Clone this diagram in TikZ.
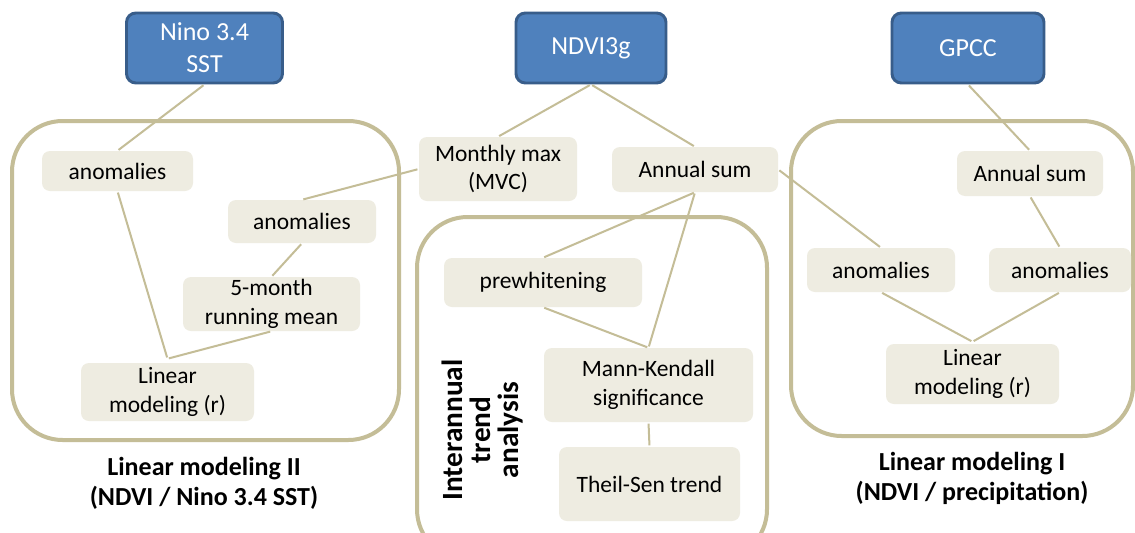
\documentclass[tikz,border=0pt]{standalone}
\usepackage{fontspec}
\setmainfont{Carlito}
\usetikzlibrary{calc}
\definecolor{srcblue}{HTML}{4F81BD}
\definecolor{srcborder}{HTML}{385D8A}
\definecolor{boxfill}{HTML}{EEECE1}
\definecolor{tanline}{HTML}{C4BD97}
\tikzset{
  srcbox/.style={draw=srcborder, line width=2.2pt, fill=srcblue, rounded corners=7pt,
    text=white, inner sep=0pt, align=center, font=\fontsize{19.5}{24}\selectfont},
  stepbox/.style={fill=boxfill, rounded corners=6pt, inner sep=0pt, align=center,
    text=black, font=\fontsize{17.6}{21.5}\selectfont},
  group/.style={draw=tanline, line width=3pt, rounded corners=38pt},
  conn/.style={draw=tanline, line width=1.5pt, shorten <=1pt, shorten >=1pt},
  captionlbl/.style={align=center, font=\bfseries\fontsize{19.5}{22.5}\selectfont},
}
\begin{document}
\begin{tikzpicture}[x=0.75pt, y=-0.75pt]
\clip (0,0) rectangle (1135,532);
\fill[white] (0,0) rectangle (1135,532);
% group containers
\draw[group] (12,121) rectangle (399,440);
\draw[group] (417,217) rectangle (767,560);
\draw[group] (791,121) rectangle (1133,436);
% source boxes
\node[srcbox, minimum width=156*0.75pt, minimum height=70*0.75pt] (nino) at (204.5,48) {Nino 3.4\\SST};
\node[srcbox, minimum width=150*0.75pt, minimum height=70*0.75pt] (ndvi) at (591,48) {NDVI3g};
\node[srcbox, minimum width=152*0.75pt, minimum height=70*0.75pt] (gpcc) at (968,48) {GPCC};
% left group
\node[stepbox, minimum width=151*0.75pt, minimum height=40*0.75pt] (aL1) at (117.5,171) {anomalies};
\node[stepbox, minimum width=148*0.75pt, minimum height=43*0.75pt] (aL2) at (302,221.5) {anomalies};
\node[stepbox, minimum width=177*0.75pt, minimum height=54*0.75pt] (run) at (271.5,304) {5-month\\running mean};
\node[stepbox, minimum width=173*0.75pt, minimum height=58*0.75pt] (linL) at (167.5,392) {Linear\\modeling (r)};
% middle
\node[stepbox, minimum width=158*0.75pt, minimum height=64*0.75pt] (mvc) at (498,169) {Monthly max\\(MVC)};
\node[stepbox, minimum width=166*0.75pt, minimum height=45*0.75pt] (asM) at (695,169.5) {Annual sum};
\node[stepbox, minimum width=198*0.75pt, minimum height=49*0.75pt] (pre) at (543,282.5) {prewhitening};
\node[stepbox, minimum width=209*0.75pt, minimum height=74*0.75pt] (mk) at (648.5,385) {Mann-Kendall\\significance};
\node[stepbox, minimum width=181*0.75pt, minimum height=74*0.75pt] (ts) at (649.5,484) {Theil-Sen trend};
% right group
\node[stepbox, minimum width=146*0.75pt, minimum height=45*0.75pt] (asR) at (1030,173.5) {Annual sum};
\node[stepbox, minimum width=148*0.75pt, minimum height=44*0.75pt] (aR1) at (881,270) {anomalies};
\node[stepbox, minimum width=142*0.75pt, minimum height=44*0.75pt] (aR2) at (1060,270) {anomalies};
\node[stepbox, minimum width=173*0.75pt, minimum height=60*0.75pt] (linR) at (972.5,374) {Linear\\modeling (r)};
% meeting points
\coordinate (linLtop) at ($(linL.north)+(0,-4)$);
\coordinate (linRtop) at ($(linR.north)+(0,-2)$);
% connectors
\draw[conn] (nino.south) -- (aL1.north);
\draw[conn] (aL1.south) -- (linLtop);
\draw[conn] (run.south) -- (linLtop);
\draw[conn] (mvc.west) -- (aL2.north);
\draw[conn] (aL2.south) -- (run.north);
\draw[conn] (ndvi.south) -- (mvc.north);
\draw[conn] (ndvi.south) -- (asM.north);
\draw[conn] (asM.south) -- (pre.north);
\draw[conn] (asM.south) -- (mk.north);
\draw[conn] (pre.south) -- (mk.north);
\draw[conn] (mk.south) -- (ts.north);
\draw[conn] (asM.east) -- (aR1.north);
\draw[conn] (gpcc.south) -- (asR.north);
\draw[conn] (asR.south) -- (aR2.north);
\draw[conn] (aR1.south) -- (linRtop);
\draw[conn] (aR2.south) -- (linRtop);
% captions
\node[captionlbl] (capL) at (204,483) {Linear modeling II\\(NDVI / Nino 3.4 SST)};
\node[captionlbl] (capR) at (972,478) {Linear modeling I\\(NDVI / precipitation)};
\node[align=center, rotate=90, font=\bfseries\fontsize{22}{21}\selectfont] (trend) at (483,430) {Interannual\\trend\\analysis};
\end{tikzpicture}
\end{document}
